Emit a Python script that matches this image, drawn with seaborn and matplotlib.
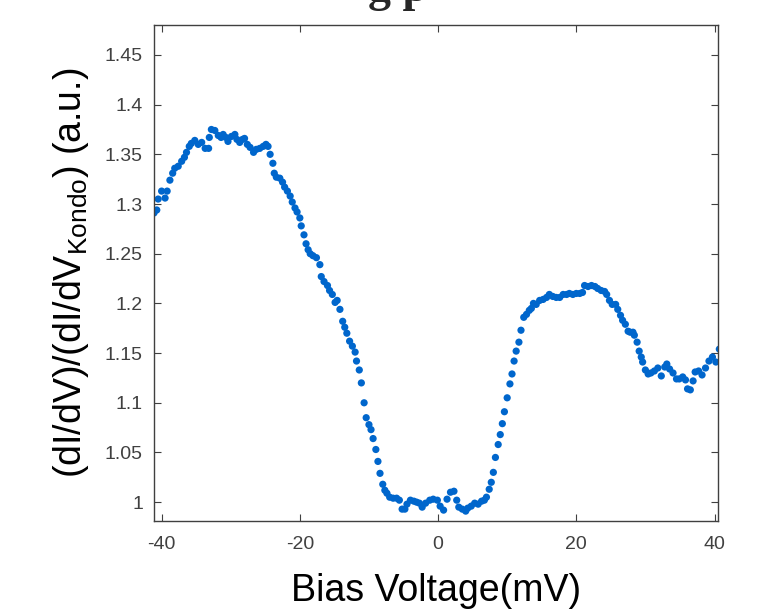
import numpy as np
import pandas as pd
import matplotlib
matplotlib.use('Agg')
import matplotlib.pyplot as plt
import seaborn as sns

# Bias voltage (mV) and normalised conductance
bias_mv = [-41.1, -40.7, -40.5, -40.0, -39.5, -39.2, -38.8, -38.4, -38.1, -37.6,
           -37.1, -36.7, -36.4, -36.0, -35.7, -35.2, -34.7, -34.2, -33.7, -33.2,
           -33.1, -32.8, -32.3, -31.8, -31.4, -31.1, -30.7, -30.4, -29.9, -29.4,
           -29.1, -28.7, -28.3, -28.0, -27.6, -27.2, -26.7, -26.3, -25.8, -25.3,
           -24.9, -24.6, -24.3, -23.9, -23.7, -23.4, -22.9, -22.5, -22.2, -21.8,
           -21.4, -21.1, -20.7, -20.4, -20.0, -19.8, -19.4, -19.1, -18.8, -18.5,
           -18.1, -17.6, -17.1, -16.9, -16.5, -16.0, -15.7, -15.3, -14.9, -14.6,
           -14.2, -13.8, -13.5, -13.2, -12.8, -12.4, -12.0, -11.8, -11.4, -11.1,
           -10.7, -10.4, -10.0, -9.7, -9.4, -9.0, -8.7, -8.4, -8.0, -7.7,
           -7.4, -7.0, -6.5, -6.0, -5.6, -5.2, -4.8, -4.5, -4.0, -3.5,
           -3.1, -2.7, -2.3, -1.8, -1.2, -0.7, -0.1, 0.3, 0.8, 1.3,
           1.8, 2.3, 2.7, 3.0, 3.5, 4.0, 4.3, 4.8, 5.3, 5.8,
           6.3, 6.7, 7.0, 7.4, 7.7, 8.0, 8.3, 8.7, 9.0, 9.3,
           9.6, 10.0, 10.4, 10.7, 11.0, 11.3, 11.7, 12.0, 12.4, 12.8,
           13.2, 13.5, 13.8, 14.2, 14.7, 15.2, 15.7, 16.1, 16.6, 17.1,
           17.6, 18.1, 18.6, 19.0, 19.5, 20.0, 20.5, 20.9, 21.2, 21.7,
           22.2, 22.7, 23.1, 23.6, 24.1, 24.4, 24.8, 25.2, 25.7, 26.0,
           26.4, 26.7, 27.1, 27.5, 27.8, 28.2, 28.4, 28.8, 29.1, 29.4,
           29.6, 30.0, 30.4, 30.8, 31.3, 31.8, 32.3, 32.8, 33.1, 33.5,
           34.0, 34.5, 34.9, 35.4, 35.8, 36.1, 36.5, 36.9, 37.2, 37.7,
           38.2, 38.7, 39.2, 39.7, 40.2, 40.7]

didv_norm = [1.291, 1.294, 1.305, 1.313, 1.306, 1.313, 1.324, 1.331, 1.336, 1.338,
             1.343, 1.347, 1.352, 1.358, 1.361, 1.364, 1.360, 1.362, 1.356, 1.356,
             1.367, 1.375, 1.374, 1.369, 1.367, 1.370, 1.367, 1.363, 1.368, 1.370,
             1.365, 1.362, 1.365, 1.366, 1.360, 1.357, 1.352, 1.355, 1.356, 1.358,
             1.360, 1.358, 1.350, 1.341, 1.331, 1.327, 1.326, 1.322, 1.317, 1.313,
             1.308, 1.302, 1.296, 1.292, 1.286, 1.278, 1.269, 1.260, 1.254, 1.250,
             1.248, 1.246, 1.239, 1.227, 1.222, 1.218, 1.213, 1.209, 1.201, 1.203,
             1.194, 1.182, 1.176, 1.170, 1.162, 1.157, 1.151, 1.142, 1.133, 1.120,
             1.100, 1.085, 1.078, 1.073, 1.064, 1.053, 1.041, 1.029, 1.018, 1.012,
             1.009, 1.005, 1.004, 1.004, 1.002, 0.993, 0.993, 0.998, 1.002, 1.001,
             1.000, 0.999, 0.995, 0.999, 1.002, 1.003, 1.002, 0.996, 0.992, 1.003,
             1.010, 1.011, 1.002, 0.995, 0.993, 0.991, 0.994, 0.996, 0.999, 0.998,
             1.001, 1.002, 1.005, 1.013, 1.020, 1.030, 1.045, 1.058, 1.068, 1.079,
             1.091, 1.105, 1.119, 1.129, 1.142, 1.152, 1.161, 1.173, 1.186, 1.189,
             1.193, 1.195, 1.200, 1.199, 1.203, 1.204, 1.206, 1.209, 1.207, 1.206,
             1.206, 1.209, 1.209, 1.210, 1.209, 1.210, 1.210, 1.211, 1.218, 1.217,
             1.218, 1.217, 1.215, 1.213, 1.212, 1.209, 1.203, 1.199, 1.199, 1.194,
             1.188, 1.183, 1.179, 1.172, 1.171, 1.171, 1.168, 1.161, 1.152, 1.146,
             1.141, 1.133, 1.129, 1.130, 1.132, 1.135, 1.127, 1.136, 1.139, 1.134,
             1.130, 1.124, 1.124, 1.126, 1.123, 1.114, 1.113, 1.122, 1.131, 1.132,
             1.128, 1.135, 1.142, 1.146, 1.141, 1.154]

x_ticks = [-40, -20, 0, 20, 40]
y_ticks = [1, 1.05, 1.1, 1.15, 1.2, 1.25, 1.3, 1.35, 1.4, 1.45]
y_ticklabels = ['1', '1.05', '1.1', '1.15', '1.2', '1.25', '1.3', '1.35', '1.4', '1.45']

df = pd.DataFrame({'bias': bias_mv, 'g': didv_norm})

sns.set_style('ticks')
plt.rcParams['font.family'] = ['Liberation Sans', 'DejaVu Sans']
plt.rcParams['mathtext.fontset'] = 'custom'
plt.rcParams['mathtext.rm'] = 'Liberation Sans'
plt.rcParams['mathtext.it'] = 'Liberation Sans'

grey = '#404040'
fig = plt.figure(figsize=(7.72, 6.13), dpi=100)
ax = fig.add_axes([0.1995, 0.150, 0.7305, 0.809])

sns.scatterplot(data=df, x='bias', y='g', ax=ax, color='#0066cc',
                s=27, edgecolor='none', linewidth=0)

ax.set_xlim(-41.1, 40.5)
ax.set_ylim(0.981, 1.48)
ax.set_xticks(x_ticks)
ax.set_xticklabels([str(t) for t in x_ticks])
ax.set_yticks(y_ticks)
ax.set_yticklabels(y_ticklabels)

ax.tick_params(direction='in', length=5, width=0.8, colors=grey,
               labelsize=14, top=True, right=True)
ax.tick_params(axis='x', pad=11)
ax.tick_params(axis='y', pad=8)
for sp in ax.spines.values():
    sp.set_visible(True)
    sp.set_color(grey)
    sp.set_linewidth(1.0)

ax.set_xlabel('Bias Voltage(mV)', fontsize=27, color='black', labelpad=14)
ax.set_ylabel(r'(dI/dV)/(dI/dV$_{\mathrm{Kondo}}$) (a.u.)', fontsize=27,
              color='black', labelpad=10)

# title of the slide, cut off at the top edge
fig.text(0.515, 1 - 1 / 613, 'g p', fontsize=33, fontweight='bold',
         family=['Liberation Serif', 'DejaVu Serif'], ha='center', va='baseline')

fig.savefig('out.png', dpi=100)
